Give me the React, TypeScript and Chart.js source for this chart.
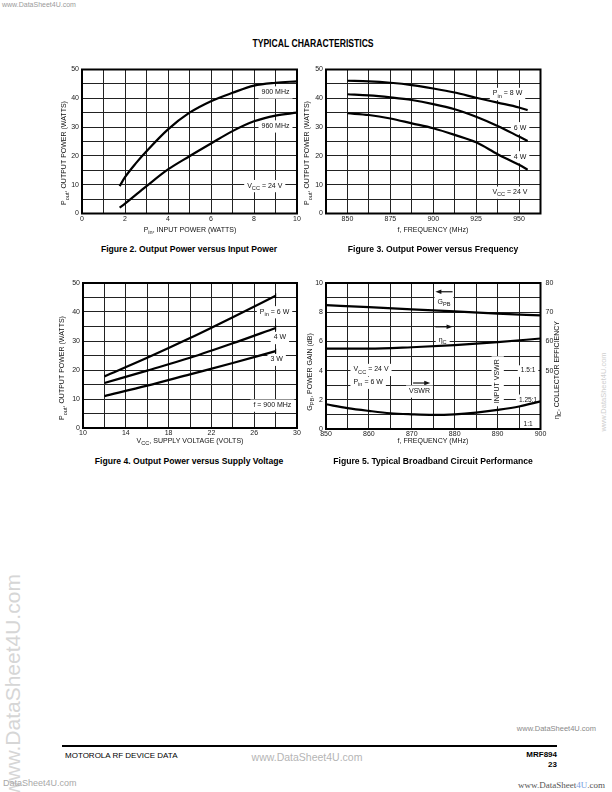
import React, { useEffect, useRef } from 'react';
import { Chart, registerables } from 'chart.js';

Chart.register(...registerables);

const FONT = '"Liberation Sans", Arial, Helvetica, sans-serif';
const SERIF = '"Liberation Serif", "Times New Roman", serif';
const FS = 7;

// ---------- Figure 2: Output Power versus Input Power ----------
const fig2Pin900 = [1.75, 2, 2.5, 3, 4, 5, 6, 7, 8, 9, 10];
const fig2Pout900 = [9.5, 12.6, 17.4, 21.6, 29.2, 35, 39, 41.9, 44.4, 45.4, 45.9];
const fig2Pin960 = [1.75, 2, 3, 4, 5, 6, 7, 8, 9, 10];
const fig2Pout960 = [2, 3.4, 9.5, 15.3, 19.9, 24.3, 28.6, 32, 34, 35];
const fig2XTicks = [0, 2, 4, 6, 8, 10];
const fig2YTicks = [0, 10, 20, 30, 40, 50];

// ---------- Figure 3: Output Power versus Frequency ----------
const fig3Freq = [850, 862.5, 875, 887.5, 900, 912.5, 925, 937.5, 950, 955];
const fig3Pout8W = [46.1, 45.9, 45.4, 44.6, 43.4, 42, 40.2, 38.5, 36.8, 35.9];
const fig3Pout6W = [41.4, 41, 40.3, 39.4, 38, 36.2, 33.6, 30.4, 26.7, 25.2];
const fig3Pout4W = [34.8, 34.2, 33, 31.3, 29.6, 27.3, 24.7, 20.6, 16.9, 15.2];
const fig3XTicks = [850, 875, 900, 925, 950];
const fig3YTicks = [0, 10, 20, 30, 40, 50];

// ---------- Figure 4: Output Power versus Supply Voltage ----------
const fig4Vcc = [12, 16, 20, 24, 28];
const fig4Pout6W = [17.8, 24.2, 31, 38.2, 45.6];
const fig4Pout4W = [15.5, 19.8, 24.2, 29.2, 34.5];
const fig4Pout3W = [11, 14.6, 18.5, 22.4, 26.5];
const fig4XTicks = [10, 14, 18, 22, 26, 30];
const fig4YTicks = [0, 10, 20, 30, 40, 50];

// ---------- Figure 5: Typical Broadband Circuit Performance ----------
const fig5Freq = [850, 860, 870, 880, 890, 900];
const fig5GainDb = [8.48, 8.35, 8.2, 8.05, 7.9, 7.78];
const fig5EffPct = [57.5, 57.5, 58, 58.75, 59.75, 61];
const fig5VswrFreq = [850, 855, 860, 865, 870, 875, 880, 885, 890, 895, 900];
const fig5Vswr = [1.212, 1.179, 1.155, 1.135, 1.126, 1.121, 1.126, 1.141, 1.164, 1.193, 1.236];
const fig5XTicks = [850, 860, 870, 880, 890, 900];
const fig5YTicks = [0, 2, 4, 6, 8, 10];
const fig5EffTicks = [50, 60, 70, 80];
const fig5VswrTickValues = [1.5, 1.25, 1];
const fig5VswrTickLabels = ['1.5:1', '1.25:1', '1:1'];

type Seg = [string, boolean?];
type Rect = { x: number; y: number; w: number; h: number };
type Plot = { l: number; t: number; r: number; b: number };
type Note =
  | { kind: 'text'; x: number; y: number; axis?: string; segs: Seg[]; align?: 'left' | 'center' | 'right'; rot?: number; bg?: boolean; dy?: number; size?: number }
  | { kind: 'arrow'; x1: number; x2: number; y: number; axis?: string };
type Title = { x: number; y: number; segs: Seg[]; rot?: number };

const segFont = (sub: boolean | undefined, size: number) => `${sub ? size * 0.8 : size}px ${FONT}`;

function drawRich(ctx: CanvasRenderingContext2D, segs: Seg[], x: number, y: number, size: number, align: string, rot: number, bg: boolean) {
  ctx.save();
  ctx.translate(x, y);
  if (rot) ctx.rotate(rot);
  let w = 0;
  const widths = segs.map(([t, sub]) => {
    ctx.font = segFont(sub, size);
    const m = ctx.measureText(t).width;
    w += m;
    return m;
  });
  let sx = align === 'left' ? 0 : align === 'right' ? -w : -w / 2;
  if (bg) {
    ctx.fillStyle = '#fff';
    ctx.fillRect(sx - 3, -size * 0.8, w + 6, size * 1.75);
  }
  ctx.fillStyle = '#111';
  ctx.textBaseline = 'middle';
  ctx.textAlign = 'left';
  segs.forEach(([t, sub], i) => {
    ctx.font = segFont(sub, size);
    ctx.fillText(t, sx, sub ? size * 0.38 : 0);
    sx += widths[i];
  });
  ctx.restore();
}

function overlayPlugin(rect: Rect, notes: Note[], titles: Title[]) {
  return {
    id: 'overlay',
    beforeDatasetsDraw(chart: any) {
      const ctx = chart.ctx as CanvasRenderingContext2D;
      const xs = chart.scales.x;
      for (const n of notes) {
        const ys = chart.scales[n.axis || 'y'];
        if (n.kind === 'text') {
          drawRich(ctx, n.segs, xs.getPixelForValue(n.x), ys.getPixelForValue(n.y) + (n.dy || 0), n.size || FS, n.align || 'center', n.rot || 0, n.bg !== false);
        } else {
          const p1 = xs.getPixelForValue(n.x1);
          const p2 = xs.getPixelForValue(n.x2);
          const py = ys.getPixelForValue(n.y);
          const d = Math.sign(p2 - p1);
          ctx.save();
          ctx.strokeStyle = '#111';
          ctx.fillStyle = '#111';
          ctx.lineWidth = 1.2;
          ctx.beginPath();
          ctx.moveTo(p1, py);
          ctx.lineTo(p2 - d * 3, py);
          ctx.stroke();
          ctx.beginPath();
          ctx.moveTo(p2, py);
          ctx.lineTo(p2 - d * 6, py - 2.2);
          ctx.lineTo(p2 - d * 6, py + 2.2);
          ctx.closePath();
          ctx.fill();
          ctx.restore();
        }
      }
    },
    afterDraw(chart: any) {
      const ctx = chart.ctx as CanvasRenderingContext2D;
      const a = chart.chartArea;
      ctx.save();
      ctx.strokeStyle = '#000';
      ctx.lineWidth = 2;
      ctx.strokeRect(a.left, a.top, a.right - a.left, a.bottom - a.top);
      ctx.restore();
      for (const t of titles) drawRich(ctx, t.segs, t.x - rect.x, t.y - rect.y, FS, 'center', t.rot || 0, false);
    },
  };
}

function axis(pos: 'left' | 'right' | 'bottom', min: number, max: number, step: number, labels: number[], size: number, pad: number, grid = true) {
  const horiz = pos === 'bottom';
  return {
    type: 'linear',
    position: pos,
    min,
    max,
    afterFit: (s: any) => {
      if (horiz) s.height = size;
      else s.width = size;
      s.paddingLeft = 0;
      s.paddingRight = 0;
      s.paddingTop = 0;
      s.paddingBottom = 0;
    },
    ticks: {
      stepSize: step,
      autoSkip: false,
      maxRotation: 0,
      minRotation: 0,
      padding: pad,
      color: '#1a1a1a',
      font: { family: FONT, size: FS },
      callback: (v: number) => (labels.some((l) => Math.abs(l - v) < 1e-6) ? String(v) : ''),
    },
    grid: { display: grid, color: '#222', lineWidth: 1, drawTicks: false },
    border: { display: false },
  };
}

const line = (xs: number[], ys: number[], yAxisID = 'y', endTick = false) => ({
  data: xs.map((x, i) => ({ x, y: ys[i] })),
  yAxisID,
  borderColor: '#000',
  borderWidth: 2.2,
  pointRadius: xs.map((_, i) => (endTick && i === xs.length - 1 ? 2.5 : 0)),
  pointStyle: 'line',
  pointRotation: 90,
  pointBorderWidth: 1.2,
  pointBorderColor: '#000',
  fill: false,
  cubicInterpolationMode: 'monotone',
  tension: 0.4,
});

function buildConfig(rect: Rect, plot: Plot, scales: any, datasets: any[], notes: Note[], titles: Title[], leftW: number, bottomH: number, rightW = 0) {
  return {
    type: 'line',
    data: { datasets },
    options: {
      responsive: false,
      animation: false,
      devicePixelRatio: 1,
      events: [],
      layout: {
        padding: {
          left: plot.l - rect.x - leftW,
          top: plot.t - rect.y,
          right: rect.x + rect.w - plot.r - rightW,
          bottom: rect.y + rect.h - plot.b - bottomH,
        },
      },
      plugins: { legend: { display: false }, tooltip: { enabled: false } },
      scales,
    },
    plugins: [overlayPlugin(rect, notes, titles)],
  } as any;
}

function ChartCanvas({ rect, build }: { rect: Rect; build: () => any }) {
  const ref = useRef<HTMLCanvasElement>(null);
  useEffect(() => {
    const chart = new Chart(ref.current as HTMLCanvasElement, build());
    return () => chart.destroy();
  }, []);
  return (
    <canvas
      ref={ref}
      width={rect.w}
      height={rect.h}
      style={{ position: 'absolute', left: rect.x, top: rect.y, width: rect.w, height: rect.h }}
    />
  );
}

const PI2 = -Math.PI / 2;

const r2: Rect = { x: 50, y: 62, w: 258, h: 176 };
const p2: Plot = { l: 82, t: 69.5, r: 297, b: 213.5 };
const build2 = () =>
  buildConfig(
    r2,
    p2,
    { x: axis('bottom', 0, 10, 1, fig2XTicks, 12, 1), y: axis('left', 0, 50, 5, fig2YTicks, 20, 3) },
    [line(fig2Pin900, fig2Pout900), line(fig2Pin960, fig2Pout960)],
    [
      { kind: 'text', x: 9, y: 42.2, segs: [['900 MHz']] },
      { kind: 'text', x: 9, y: 30.4, segs: [['960 MHz']] },
      { kind: 'text', x: 8.5, y: 9.7, segs: [['V'], ['CC', true], [' = 24 V']] },
    ],
    [
      { x: 190, y: 230, segs: [['P'], ['in', true], [', INPUT POWER (WATTS)']] },
      { x: 64.5, y: 153, rot: PI2, segs: [['P'], ['out', true], [', OUTPUT POWER (WATTS)']] },
    ],
    20,
    12
  );

const r3: Rect = { x: 298, y: 62, w: 252, h: 176 };
const p3: Plot = { l: 326, t: 69.5, r: 540.5, b: 213.5 };
const build3 = () =>
  buildConfig(
    r3,
    p3,
    { x: axis('bottom', 837.5, 962.5, 12.5, fig3XTicks, 12, 1), y: axis('left', 0, 50, 5, fig3YTicks, 18, 3) },
    [line(fig3Freq, fig3Pout8W), line(fig3Freq, fig3Pout6W), line(fig3Freq, fig3Pout4W)],
    [
      { kind: 'text', x: 943.3, y: 41.7, segs: [['P'], ['in', true], [' = 8 W']] },
      { kind: 'text', x: 950.6, y: 29.8, segs: [['6 W']] },
      { kind: 'text', x: 950.6, y: 19.7, segs: [['4 W']] },
      { kind: 'text', x: 944.7, y: 7.4, segs: [['V'], ['CC', true], [' = 24 V']] },
    ],
    [
      { x: 433, y: 230, segs: [['f, FREQUENCY (MHz)']] },
      { x: 307.5, y: 153, rot: PI2, segs: [['P'], ['out', true], [', OUTPUT POWER (WATTS)']] },
    ],
    18,
    12
  );

const r4: Rect = { x: 50, y: 276, w: 258, h: 176 };
const p4: Plot = { l: 83, t: 283, r: 297, b: 428 };
const build4 = () =>
  buildConfig(
    r4,
    p4,
    { x: axis('bottom', 10, 30, 2, fig4XTicks, 12, 1), y: axis('left', 0, 50, 5, fig4YTicks, 20, 3) },
    [line(fig4Vcc, fig4Pout6W, 'y', true), line(fig4Vcc, fig4Pout4W, 'y', true), line(fig4Vcc, fig4Pout3W, 'y', true)],
    [
      { kind: 'text', x: 27.9, y: 40.1, segs: [['P'], ['in', true], [' = 6 W']] },
      { kind: 'text', x: 28.4, y: 31.2, segs: [['4 W']] },
      { kind: 'text', x: 28.1, y: 23.7, segs: [['3 W']] },
      { kind: 'text', x: 27.7, y: 7.9, segs: [['f = 900 MHz']] },
    ],
    [
      { x: 190, y: 441, segs: [['V'], ['CC', true], [', SUPPLY VOLTAGE (VOLTS)']] },
      { x: 62.5, y: 368, rot: PI2, segs: [['P'], ['out', true], [', OUTPUT POWER (WATTS)']] },
    ],
    20,
    12
  );

const r5: Rect = { x: 298, y: 276, w: 270, h: 176 };
const p5: Plot = { l: 326, t: 283, r: 540.5, b: 429 };
const build5 = () =>
  buildConfig(
    r5,
    p5,
    {
      x: axis('bottom', 850, 900, 5, fig5XTicks, 12, 1),
      y: axis('left', 0, 10, 1, fig5YTicks, 14, 3),
      y2: axis('right', 30, 80, 10, fig5EffTicks, 20, 5, false),
      yv: { type: 'linear', position: 'right', min: 1, max: 2.25, display: false },
    },
    [line(fig5Freq, fig5GainDb, 'y'), line(fig5Freq, fig5EffPct, 'y2'), line(fig5VswrFreq, fig5Vswr, 'yv')],
    [
      { kind: 'arrow', x1: 879.5, x2: 875.5, y: 9.4 },
      { kind: 'text', x: 877.5, y: 8.7, segs: [['G'], ['PB', true]] },
      { kind: 'arrow', x1: 875.5, x2: 879.5, y: 7.0 },
      { kind: 'text', x: 877.2, y: 6.1, segs: [['η'], ['C', true]] },
      { kind: 'arrow', x1: 870.3, x2: 874.3, y: 3.15 },
      { kind: 'text', x: 871.8, y: 2.6, segs: [['VSWR']] },
      { kind: 'text', x: 856.4, y: 4.08, align: 'left', segs: [['V'], ['CC', true], [' = 24 V']] },
      { kind: 'text', x: 856.4, y: 3.2, align: 'left', segs: [['P'], ['in', true], [' = 6 W']] },
      { kind: 'text', x: 889.9, y: 3.27, rot: PI2, segs: [['INPUT VSWR']] },
      ...fig5VswrTickValues.map(
        (v, i) => ({ kind: 'text', x: 897.1, y: v, axis: 'yv', size: 6.6, dy: v === 1 ? -5 : 0, segs: [[fig5VswrTickLabels[i]]] } as Note)
      ),
    ],
    [
      { x: 433, y: 441, segs: [['f, FREQUENCY (MHz)']] },
      { x: 310, y: 372, rot: PI2, segs: [['G'], ['PB', true], [', POWER GAIN (dB)']] },
      { x: 557, y: 370, rot: PI2, segs: [['η'], ['C', true], [', COLLECTOR EFFICIENCY']] },
    ],
    14,
    12,
    20
  );

function Txt({ x, y, anchor = 'center', rot = 0, style, children }: any) {
  const tx = anchor === 'left' ? '0' : anchor === 'right' ? '-100%' : '-50%';
  return (
    <div
      style={{
        position: 'absolute',
        left: x,
        top: y,
        transform: `translate(${tx},-50%)${rot ? ` rotate(${rot}deg)` : ''}`,
        whiteSpace: 'nowrap',
        lineHeight: 1,
        fontFamily: FONT,
        ...style,
      }}
    >
      {children}
    </div>
  );
}

export default function App() {
  const cap = { fontWeight: 700, fontSize: 8.6, color: '#000' };
  return (
    <div style={{ position: 'absolute', left: 0, top: 0, width: 612, height: 792, background: '#fff', overflow: 'hidden' }}>
      {/* watermarks */}
      <Txt x={2} y={4} anchor="left" style={{ fontSize: 7, color: '#9a9a9a' }}>www.DataSheet4U.com</Txt>
      <Txt x={12} y={685} rot={-90} style={{ fontSize: 21, color: '#d6d6d6' }}>www.DataSheet4U.com</Txt>
      <Txt x={604} y={392} rot={-90} style={{ fontSize: 7.5, color: '#cfcfcf' }}>www.DataSheet4U.com</Txt>

      {/* header */}
      <div
        style={{
          position: 'absolute',
          left: 313,
          top: 44,
          transform: 'translate(-50%,-50%) scaleX(0.86)',
          whiteSpace: 'nowrap',
          lineHeight: 1,
          fontFamily: FONT,
          fontWeight: 700,
          fontSize: 10,
        }}
      >
        TYPICAL CHARACTERISTICS
      </div>

      <ChartCanvas rect={r2} build={build2} />
      <ChartCanvas rect={r3} build={build3} />
      <ChartCanvas rect={r4} build={build4} />
      <ChartCanvas rect={r5} build={build5} />

      <Txt x={189} y={249} style={cap}>Figure 2. Output Power versus Input Power</Txt>
      <Txt x={433} y={249} style={cap}>Figure 3. Output Power versus Frequency</Txt>
      <Txt x={189} y={461} style={cap}>Figure 4. Output Power versus Supply Voltage</Txt>
      <Txt x={433} y={461} style={cap}>Figure 5. Typical Broadband Circuit Performance</Txt>

      {/* footer */}
      <Txt x={596} y={729} anchor="right" style={{ fontSize: 7.5, color: '#8a8a8a' }}>www.DataSheet4U.com</Txt>
      <div style={{ position: 'absolute', left: 62, top: 745, width: 495, height: 2, background: '#000' }} />
      <Txt x={65} y={756} anchor="left" style={{ fontSize: 8, color: '#000' }}>MOTOROLA RF DEVICE DATA</Txt>
      <Txt x={307} y={757} style={{ fontSize: 10.5, color: '#b5b5b5' }}>www.DataSheet4U.com</Txt>
      <Txt x={557} y={755} anchor="right" style={{ fontSize: 8, fontWeight: 700, color: '#000' }}>MRF894</Txt>
      <Txt x={557} y={764.5} anchor="right" style={{ fontSize: 8, fontWeight: 700, color: '#000' }}>23</Txt>
      <Txt x={3} y={783} anchor="left" style={{ fontSize: 9, color: '#a8a8a8' }}>DataSheet4U.com</Txt>
      <Txt x={605} y={785} anchor="right" style={{ fontSize: 9, color: '#555', fontFamily: SERIF }}>
        www.DataSheet<span style={{ color: '#7aa0e0' }}>4U</span>.com
      </Txt>
    </div>
  );
}
